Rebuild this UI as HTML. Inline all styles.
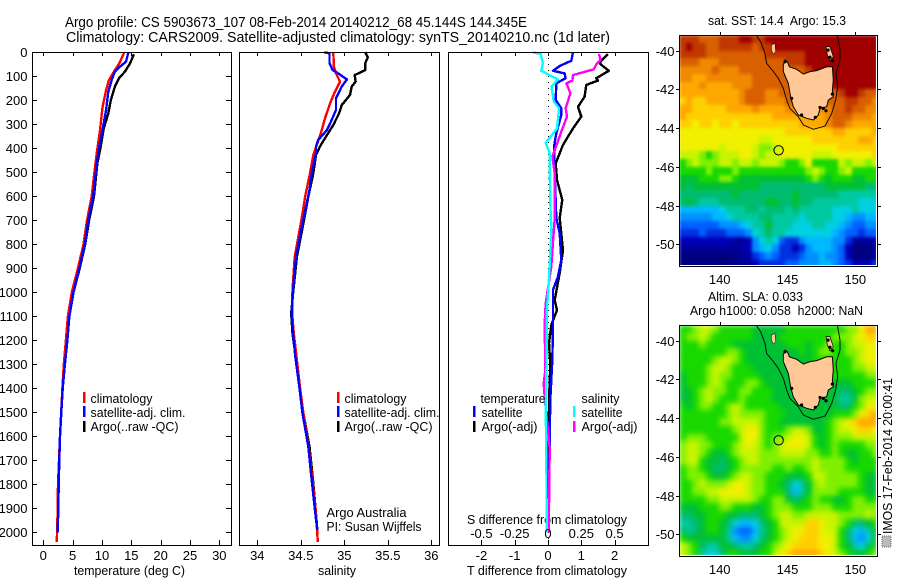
<!DOCTYPE html>
<html lang="en">
<head>
<meta charset="utf-8">
<title>Argo profile CS 5903673_107</title>
<style>
html,body{margin:0;padding:0;background:#fff;width:900px;height:580px;overflow:hidden}
svg{display:block}
text{font-family:"Liberation Sans",sans-serif;font-size:13px;fill:#000;white-space:pre}
.title{font-size:14.5px}
</style>
</head>
<body>
<svg id="fig" xmlns="http://www.w3.org/2000/svg" width="900" height="580" viewBox="0 0 900 580">
  <text class="title" x="65" y="27" textLength="462" lengthAdjust="spacingAndGlyphs">Argo profile: CS 5903673_107 08-Feb-2014 20140212_68 45.144S 144.345E</text>
  <text class="title" x="66" y="42" textLength="544" lengthAdjust="spacingAndGlyphs">Climatology: CARS2009. Satellite-adjusted climatology: synTS_20140210.nc (1d later)</text>

  <text x="74" y="575" textLength="111" lengthAdjust="spacingAndGlyphs">temperature (deg C)</text>
  <text x="318" y="575" textLength="38" lengthAdjust="spacingAndGlyphs">salinity</text>
  <text x="467" y="575" textLength="160" lengthAdjust="spacingAndGlyphs">T difference from climatology</text>
  <text x="467" y="524" textLength="160" lengthAdjust="spacingAndGlyphs">S difference from climatology</text>

  <text x="708" y="25" textLength="138" lengthAdjust="spacingAndGlyphs">sat. SST: 14.4  Argo: 15.3</text>
  <text x="708" y="301" textLength="95" lengthAdjust="spacingAndGlyphs">Altim. SLA: 0.033</text>
  <text x="690" y="315" textLength="173" lengthAdjust="spacingAndGlyphs">Argo h1000: 0.058  h2000: NaN</text>

  <g id="layer-panels"></g>
  <g id="layer-maps"></g>

  <g>
    <rect x="83" y="392" width="2.5" height="11" fill="#f00"/>
    <text x="90.5" y="403" textLength="62" lengthAdjust="spacingAndGlyphs">climatology</text>
    <rect x="83" y="406" width="2.5" height="11" fill="#00f"/>
    <text x="90.5" y="417" textLength="95" lengthAdjust="spacingAndGlyphs">satellite-adj. clim.</text>
    <rect x="83" y="421" width="2.5" height="11" fill="#000"/>
    <text x="90.5" y="431" textLength="88" lengthAdjust="spacingAndGlyphs">Argo(..raw -QC)</text>
  </g>
  <g>
    <rect x="337" y="392" width="2.5" height="11" fill="#f00"/>
    <text x="344.5" y="403" textLength="62" lengthAdjust="spacingAndGlyphs">climatology</text>
    <rect x="337" y="406" width="2.5" height="11" fill="#00f"/>
    <text x="344.5" y="417" textLength="95" lengthAdjust="spacingAndGlyphs">satellite-adj. clim.</text>
    <rect x="337" y="421" width="2.5" height="11" fill="#000"/>
    <text x="344.5" y="431" textLength="88" lengthAdjust="spacingAndGlyphs">Argo(..raw -QC)</text>
    <text x="326.5" y="517" textLength="80" lengthAdjust="spacingAndGlyphs">Argo Australia</text>
    <text x="326.5" y="531" textLength="95" lengthAdjust="spacingAndGlyphs">PI: Susan Wijffels</text>
  </g>
  <g>
    <text x="480.5" y="403" textLength="65" lengthAdjust="spacingAndGlyphs">temperature</text>
    <rect x="473" y="406" width="2.5" height="11" fill="#00f"/>
    <text x="481.5" y="417" textLength="41" lengthAdjust="spacingAndGlyphs">satellite</text>
    <rect x="473" y="421" width="2.5" height="11" fill="#000"/>
    <text x="481.5" y="431" textLength="56" lengthAdjust="spacingAndGlyphs">Argo(-adj)</text>
    <text x="581.5" y="403" textLength="38" lengthAdjust="spacingAndGlyphs">salinity</text>
    <rect x="573" y="406" width="2.5" height="11" fill="#0ff"/>
    <text x="581.5" y="417" textLength="41" lengthAdjust="spacingAndGlyphs">satellite</text>
    <rect x="573" y="421" width="2.5" height="11" fill="#f0f"/>
    <text x="581.5" y="431" textLength="56" lengthAdjust="spacingAndGlyphs">Argo(-adj)</text>
  </g>

  <rect x="882" y="536" width="9" height="11" fill="#bbb" stroke="#666" stroke-width="1" stroke-dasharray="1 1"/>
  <text transform="translate(892,534) rotate(-90)" x="0" y="0" textLength="156" lengthAdjust="spacingAndGlyphs">IMOS 17-Feb-2014 20:00:41</text>
</svg>

<script>
/* ---------- tick values ---------- */
var depthTicks = [0,100,200,300,400,500,600,700,800,900,1000,1100,1200,1300,1400,1500,1600,1700,1800,1900,2000];
var tempTicks = [0,5,10,15,20,25,30];
var salTicks = [34,34.5,35,35.5,36];
var tDiffTicks = [-2,-1,0,1,2];
var sDiffTicks = [-0.5,-0.25,0,0.25,0.5];
var lonTicks = [140,145,150];
var latTicks = [-40,-42,-44,-46,-48,-50];

/* ---------- temperature profile ---------- */
var tempClimDepth = [0,46,74,115,157,227,324,421,504,600,700,800,900,1000,1100,1200,1300,1400,1500,1600,1700,1800,1900,2040];
var tempClimValue = [13.8,12.95,12.2,11.2,10.7,10.1,9.66,9.1,8.7,8.25,7.45,6.85,5.9,4.85,4.2,3.85,3.5,3.25,3.05,2.85,2.68,2.5,2.45,2.3];
var tempSatDepth = [0,39,60,80,115,164,240,310,393,463,600,699,796,900,1004,1101,1199,1296,1400,1500,1600,1700,1800,1900,2000];
var tempSatValue = [14.5,14.1,13.07,12.2,11.65,11.08,10.7,10.2,9.55,9.1,8.5,7.67,7.1,6.14,5.1,4.43,4.1,3.7,3.3,3.07,2.85,2.73,2.62,2.56,2.45];
var tempArgoDepth = [8,46,81,108,143,199,255,317,393,463,600,700,800,900,1000,1100,1200,1300,1400,1500,1600,1700,1800,1900,1990];
var tempArgoValue = [15.45,14.8,13.9,12.9,12.2,11.5,11.08,10.3,9.78,9.2,8.64,7.8,7.15,6.2,5.15,4.45,4,3.55,3.25,3.05,2.85,2.7,2.55,2.5,2.4];

/* ---------- salinity profile ---------- */
var salClimDepth = [0,60,88,122,164,213,275,338,379,428,504,602,692,852,991,1087,1171,1268,1393,1504,1643,1782,1921,2040];
var salClimValue = [34.874,34.88,34.905,34.95,34.893,34.836,34.778,34.73,34.69,34.644,34.606,34.55,34.51,34.43,34.405,34.4,34.42,34.45,34.49,34.53,34.59,34.635,34.675,34.695];
var salSatDepth = [0,4,46,74,88,113,143,192,240,282,324,365,393,421,504,574,712,852,991,1087,1171,1268,1393,1504,1643,1782,1921,1990];
var salSatValue = [34.77,34.83,34.83,34.867,34.93,35.03,34.97,34.905,34.905,34.855,34.8,34.7,34.675,34.675,34.625,34.6,34.52,34.445,34.41,34.395,34.41,34.437,34.483,34.52,34.586,34.625,34.667,34.69];
var salArgoDepth = [0,21,46,74,95,122,143,178,220,254,303,345,393,428,504,602,712,852,991,1087,1171,1268,1393,1504,1643,1782,1921,1990];
var salArgoValue = [35.24,35.27,35.24,35.24,35.12,35.13,35.085,35.066,34.97,34.94,34.874,34.8,34.72,34.675,34.644,34.586,34.53,34.455,34.415,34.39,34.405,34.44,34.49,34.53,34.6,34.64,34.675,34.69];

/* ---------- difference profiles ---------- */
var diffTSatDepth = [0,35,57,77,88,108,129,199,233,261,338,393,504,574,691,754,865,935,990,1143,1282,1448,1600,2000];
var diffTSatValue = [0.75,0.7,0.35,0.15,0.5,0.53,0.25,0.23,0.4,0.4,0.25,0.18,0.2,0.22,0.25,0.35,0.4,0.3,0.15,0.15,0.13,0.07,0.05,0.01];
var diffTArgoDepth = [7,39,49,77,108,118,136,185,227,268,317,386,462,532,615,691,824,920,1032,1074,1136,1212,1300,1462,1700,2000];
var diffTArgoValue = [1.8,1.57,1.57,1.83,1.45,1.5,1.15,1.1,0.9,1,0.75,0.45,0.23,0.27,0.43,0.35,0.45,0.35,0.2,0.27,0.1,0.03,0.07,0.03,0.02,0];
var diffSSatDepth = [0,7,46,77,113,143,205,233,317,377,421,484,691,727,935,1074,1352,1477,1700,2000];
var diffSSatValue = [-0.113,-0.055,-0.038,-0.05,0.075,0.026,0.043,0.083,0.068,-0.017,0.013,0.013,0.02,0.026,0.008,-0.008,-0.012,-0.017,-0.012,-0.01];
var diffSArgoDepth = [7,32,49,71,95,118,129,171,233,268,331,435,504,691,893,1046,1129,1324,1380,1448,1650,2000];
var diffSArgoValue = [0.383,0.394,0.364,0.344,0.188,0.183,0.138,0.168,0.133,0.143,0.1,0.033,0.05,0.05,0.025,-0.017,-0.025,-0.02,-0.032,-0.023,0.013,0.005];

/* ---------- map fields: colour-scale level (0 navy .. 20 dark red), north to south ---------- */
var sstLevels = [
[19,19,19,18,18,18,19,19,19,20,20,19,19,20,20,20,20,20,20,20,20,20,20,20,20,20,20,20,20,20],
[19,20,19,19,18,18,19,19,19,19,19,18,19,19,20,20,20,20,20,20,20,20,20,20,20,20,20,20,20,20],
[19,19,19,19,18,18,18,18,18,18,18,18,18,19,19,19,19,19,19,20,20,20,20,20,20,20,20,20,20,20],
[18,18,18,17,17,17,18,18,18,18,18,18,18,18,18,18,19,19,19,20,20,20,20,20,20,20,20,20,20,20],
[17,17,17,17,17,18,17,17,17,18,18,18,18,18,18,18,18,18,18,19,20,20,20,20,20,20,20,20,20,20],
[17,17,16,16,17,17,17,17,17,17,17,18,18,18,18,18,18,18,18,18,18,18,20,20,20,20,20,20,20,20],
[16,16,16,17,16,16,16,16,17,17,17,18,18,18,18,18,18,18,18,18,18,18,18,20,20,20,20,20,20,20],
[16,16,16,16,16,16,16,16,16,17,18,18,18,17,17,18,18,18,18,18,18,18,18,18,19,20,20,19,18,18],
[15,16,15,15,16,16,16,16,16,17,18,18,18,17,17,17,18,18,18,18,18,18,18,18,18,19,19,18,18,17],
[16,16,15,15,15,15,15,16,16,16,16,17,16,16,16,16,17,17,17,17,17,17,17,18,18,19,18,18,17,17],
[16,15,15,15,15,15,15,15,15,15,15,15,15,15,16,16,16,16,16,16,16,16,17,18,18,18,17,17,17,16],
[15,15,14,15,15,14,15,15,14,15,15,15,15,15,15,15,15,15,16,16,16,16,17,18,18,17,16,16,16,16],
[14,14,14,14,14,14,14,14,14,14,14,14,14,14,14,14,15,15,15,15,15,15,15,16,16,15,15,15,15,16],
[14,14,14,14,14,14,14,14,14,14,14,14,13,13,14,14,14,14,14,14,15,15,15,15,15,15,15,16,16,15],
[14,14,14,14,14,14,13,14,14,14,14,13,12,12,13,14,14,14,14,14,14,14,14,14,15,15,15,15,15,15],
[13,13,13,12,11,12,13,13,13,14,14,13,12,13,13,14,14,14,14,14,13,13,13,14,14,14,14,14,14,15],
[11,12,13,12,12,12,13,13,12,13,13,12,13,13,13,12,11,11,12,14,11,11,11,11,13,12,13,13,12,13],
[11,11,11,11,12,11,11,11,12,11,11,11,11,11,11,11,11,11,11,12,13,12,11,11,12,13,11,11,11,11],
[10,10,10,11,11,11,12,12,11,10,10,10,10,10,10,10,10,10,10,11,12,11,10,11,11,11,10,10,11,11],
[10,9,10,10,10,10,10,10,10,10,10,10,9,9,9,9,9,9,9,9,9,9,10,10,10,10,10,10,9,9],
[9,9,9,9,9,9,9,9,10,9,9,9,9,9,9,9,9,10,9,9,9,9,9,9,8,8,8,8,8,8],
[9,10,9,8,8,8,9,9,9,9,9,9,9,10,10,9,9,10,9,9,8,8,8,8,8,8,8,7,7,7],
[6,6,6,6,6,6,7,8,8,8,9,9,8,9,9,9,8,9,8,8,8,8,8,7,7,7,8,7,7,7],
[5,5,5,5,5,6,6,7,8,8,8,8,9,9,8,8,8,8,7,8,8,8,8,7,7,6,5,5,6,6],
[4,4,4,4,4,4,5,5,5,6,7,8,8,10,8,8,8,7,7,7,8,8,7,7,6,5,4,4,5,5],
[3,3,3,4,3,3,3,4,4,4,5,7,8,9,8,8,7,7,7,7,7,7,7,6,5,4,4,3,4,4],
[2,2,2,2,2,2,2,2,1,1,2,5,7,8,7,4,3,3,5,6,6,6,6,5,5,3,1,1,1,2],
[1,1,1,1,1,1,1,1,1,1,2,5,6,7,5,3,3,2,3,5,6,6,6,5,4,2,0,0,0,1],
[0,0,0,0,0,0,0,0,0,1,1,3,4,5,4,3,3,3,4,5,5,6,5,5,4,2,0,0,0,1],
[0,0,0,0,0,0,0,0,1,1,1,2,3,3,3,3,4,4,5,5,5,6,6,5,4,3,2,2,2,3]
];
var slaLevels = [
[11,11,12,13,13,12,11,11,11,11,11,10,10,10,10,10,11,11,11,11,11,11,11,11,11,12,12,14,16,16],
[11,12,12,13,12,11,11,11,11,11,11,10,10,10,10,11,11,11,11,11,11,11,11,12,12,12,13,14,15,15],
[11,11,11,12,11,11,11,11,10,10,10,10,10,10,10,10,11,11,11,10,11,11,12,11,11,12,13,13,14,14],
[11,11,11,11,11,11,11,12,12,11,10,10,10,10,10,10,10,10,11,10,11,12,12,11,11,12,12,13,14,14],
[11,11,11,11,11,12,13,13,12,11,10,10,10,10,10,10,10,10,10,10,11,11,11,11,11,11,12,13,14,14],
[11,11,11,11,12,13,13,12,11,11,11,10,10,10,10,10,10,10,10,10,10,11,11,11,11,11,12,12,13,13],
[10,11,11,11,12,13,12,12,11,11,11,11,10,10,10,10,10,10,10,10,10,10,11,11,11,11,11,11,12,12],
[10,11,11,11,12,13,12,11,11,11,12,12,11,10,10,10,10,10,10,10,10,10,10,10,10,10,11,11,11,11],
[10,10,11,12,13,12,12,11,11,12,12,11,11,11,10,10,10,10,10,10,10,10,10,10,9,9,10,11,12,12],
[10,10,11,12,13,12,11,11,11,12,11,11,11,11,10,10,10,10,10,10,10,10,10,10,8,8,10,12,13,13],
[11,10,11,12,12,11,11,12,13,12,11,11,11,11,11,10,10,10,10,10,10,10,10,10,9,9,11,12,14,14],
[11,11,11,11,11,11,11,12,13,12,12,12,12,11,11,11,10,10,10,10,10,10,10,11,11,11,12,14,15,16],
[11,11,11,11,11,11,12,12,13,13,13,13,12,11,11,10,10,10,10,10,10,10,11,12,13,14,15,16,16,16],
[11,11,11,11,11,11,11,11,12,13,14,14,12,11,11,11,12,13,13,12,10,10,11,12,13,13,14,15,15,14],
[11,12,12,12,11,11,11,11,11,13,14,14,12,11,12,12,13,14,14,13,11,10,11,12,12,12,13,13,13,13],
[12,13,13,12,12,11,11,11,12,13,14,13,12,11,12,13,14,14,14,13,11,10,11,12,11,11,11,11,12,12],
[12,13,13,12,11,10,10,11,12,13,13,13,12,12,12,13,13,13,13,12,12,11,11,12,11,10,10,11,11,12],
[12,13,13,11,10,10,9,10,11,12,13,13,12,12,12,12,12,12,12,12,13,12,12,12,12,11,10,11,11,11],
[11,12,12,11,10,9,9,10,11,12,12,12,12,12,11,11,12,11,11,12,13,12,12,12,12,11,11,11,11,11],
[11,12,12,12,11,10,10,11,12,13,13,12,12,11,11,11,10,10,10,11,13,13,12,12,12,12,12,11,10,10],
[11,11,12,13,12,12,12,13,14,14,13,12,12,11,11,10,9,7,8,10,12,13,12,12,12,12,12,11,10,10],
[11,11,12,12,13,13,14,14,14,14,13,12,12,11,11,11,9,6,8,10,12,12,12,12,11,11,11,11,10,10],
[11,11,11,11,12,12,13,13,13,13,13,12,11,11,12,12,10,9,10,11,12,11,11,10,10,11,12,12,11,11],
[10,10,10,11,11,11,12,12,11,11,11,10,10,11,12,12,12,11,11,11,12,12,12,11,11,11,12,12,12,12],
[9,9,10,10,11,11,11,10,10,9,9,9,10,11,12,13,13,12,12,13,13,13,13,13,12,12,12,12,13,12],
[8,8,9,10,11,11,10,9,7,6,6,7,9,10,11,13,13,13,13,15,15,14,13,13,12,11,9,9,10,11],
[9,8,9,10,11,11,10,8,5,4,4,6,8,10,11,12,13,14,14,15,15,14,13,13,11,9,7,6,8,10],
[11,10,10,10,10,10,10,8,6,5,5,7,9,10,11,12,13,14,15,15,15,14,14,13,11,9,6,5,7,10],
[13,12,11,9,8,8,10,10,9,8,8,9,10,11,12,13,14,15,15,15,15,14,14,13,11,10,8,7,9,11],
[13,12,11,8,7,7,9,11,11,10,10,10,11,11,13,14,15,16,16,16,16,15,14,13,12,11,10,10,11,12]
];
var levelColors = ['#000080','#00009c','#0000b8','#0030e0','#0060ff','#0090ff','#00b8ff','#00d0e0','#00c8a0','#00bc70','#00c034','#18d800','#80f000','#c8f400','#f0f000','#ffd000','#ffa800','#f08800','#d86000','#c03800','#a00000'];

/* ---------- geography (lon, lat) ---------- */
var argoLon = 144.345;
var argoLat = -45.144;
var tasmaniaLon = [144.69,144.82,144.99,145.14,145.68,146.17,146.66,147.15,147.89,148.31,148.38,148.31,148.38,148.01,147.89,147.40,147.27,146.91,146.41,145.80,145.43,145.23,145.06,144.69];
var tasmaniaLat = [-40.74,-40.48,-40.57,-40.83,-40.96,-41.21,-41.08,-41.03,-40.83,-40.83,-41.52,-42.03,-42.38,-42.55,-42.89,-42.98,-43.32,-43.58,-43.49,-43.32,-42.89,-42.38,-41.69,-41.08];
var kingLon = [143.81,144.08,144.13,143.95,143.81];
var kingLat = [-39.71,-39.62,-40.05,-40.17,-39.97];
var flindersLon = [147.84,148.13,148.38,148.13,147.94];
var flindersLat = [-39.79,-39.79,-40.31,-40.52,-40.22];
var shelfLon = [142.68,143.02,143.34,143.46,143.96,144.32,144.69,144.94,145.18,145.80,146.17,146.91,147.77,148.26,148.55,148.70,148.58,148.87,148.87,148.68];
var shelfLat = [-39.19,-39.54,-40.14,-40.65,-41.08,-41.43,-41.94,-42.55,-42.98,-43.41,-43.84,-44.06,-43.89,-43.24,-42.55,-41.86,-41.17,-40.48,-39.97,-39.19];
var isletLon = [147.64,147.40,147.84,147.05,146.04,148.13,147.99,148.33,144.82,145.31,148.31];
var isletLat = [-42.98,-42.93,-43.10,-43.44,-43.32,-40.34,-39.97,-40.52,-40.57,-42.46,-42.24];

/* ---------- drawing ---------- */
var NS = 'http://www.w3.org/2000/svg';
var panelLayer = document.getElementById('layer-panels');
var mapLayer = document.getElementById('layer-maps');

function el(parent, tag, attrs, content) {
  var n = document.createElementNS(NS, tag);
  for (var k in attrs) { n.setAttribute(k, attrs[k]); }
  if (content !== undefined) { n.textContent = content; }
  parent.appendChild(n);
  return n;
}

var PANEL_TOP = 52, PANEL_BOTTOM = 545;
function depthY(d) { return 52.3 + 0.24 * d; }
function tempX(t) { return 43.3 + 5.867 * t; }
function salX(s) { return 257.3 + 87 * (s - 34); }
function tDiffX(t) { return 548 + 33.3 * t; }
function sDiffX(s) { return 548 + 133.2 * s; }

function drawVTicks(group, ticks, xFn) {
  ticks.forEach(function (t) {
    var x = Math.round(xFn(t)) + 0.5;
    var a = el(group, 'line', {x1: x, x2: x, y1: PANEL_TOP, y2: PANEL_TOP + 4, stroke: '#000', 'shape-rendering': 'crispEdges'});
    
    
    var b = el(group, 'line', {x1: x, x2: x, y1: PANEL_BOTTOM, y2: PANEL_BOTTOM - 5, stroke: '#000', 'shape-rendering': 'crispEdges'});
    
    
  });
}

function drawFrame(group, left, right, top, bottom, name) {
  var f = el(group, 'rect', {x: left + 0.5, y: top + 0.5, width: right - left, height: bottom - top, fill: 'none', stroke: '#000', 'stroke-width': 1, 'shape-rendering': 'crispEdges'});
  
  
}

function drawSeries(group, depths, values, xFn, color, name) {
  var pts = depths.map(function (d, i) { return xFn(values[i]).toFixed(1) + ',' + depthY(d).toFixed(1); }).join(' ');
  var p = el(group, 'polyline', {points: pts, fill: 'none', stroke: color, 'stroke-width': 2.4, 'shape-rendering': 'crispEdges', 'stroke-linejoin': 'round'});
  
  
}

function drawTickLabels(group, ticks, xFn, y, name) {
  ticks.forEach(function (t) {
    var lab = el(group, 'text', {x: xFn(t), y: y, 'text-anchor': 'middle'}, String(t));
    
    
  });
}

/* temperature panel */
var tempPanel = el(panelLayer, 'g', {});


drawSeries(tempPanel, tempArgoDepth, tempArgoValue, tempX, '#000', 'temperature-argo-line');
drawSeries(tempPanel, tempClimDepth, tempClimValue, tempX, '#f00', 'temperature-climatology-line');
drawSeries(tempPanel, tempSatDepth, tempSatValue, tempX, '#00f', 'temperature-satellite-line');
drawFrame(tempPanel, 32, 231, PANEL_TOP, PANEL_BOTTOM, 'temperature-panel-frame');
drawVTicks(tempPanel, tempTicks, tempX);
drawTickLabels(tempPanel, tempTicks, tempX, 560, 'temperature-tick-label');
depthTicks.forEach(function (d) {
  var y = Math.round(depthY(d)) + 0.5;
  if (d > 0) {
    var l = el(tempPanel, 'line', {x1: 32, x2: 37, y1: y, y2: y, stroke: '#000', 'shape-rendering': 'crispEdges'});
    
    
    var r = el(tempPanel, 'line', {x1: 231, x2: 226, y1: y, y2: y, stroke: '#000', 'shape-rendering': 'crispEdges'});
    
    
  }
  var lab = el(tempPanel, 'text', {x: 27.5, y: y + 4.5, 'text-anchor': 'end'}, String(d));
  
  
});

/* salinity panel */
var salPanel = el(panelLayer, 'g', {});


drawSeries(salPanel, salArgoDepth, salArgoValue, salX, '#000', 'salinity-argo-line');
drawSeries(salPanel, salClimDepth, salClimValue, salX, '#f00', 'salinity-climatology-line');
drawSeries(salPanel, salSatDepth, salSatValue, salX, '#00f', 'salinity-satellite-line');
drawFrame(salPanel, 239, 439, PANEL_TOP, PANEL_BOTTOM, 'salinity-panel-frame');
drawVTicks(salPanel, salTicks, salX);
drawTickLabels(salPanel, salTicks, salX, 560, 'salinity-tick-label');

/* difference panel */
var diffPanel = el(panelLayer, 'g', {});


var zero = el(diffPanel, 'line', {x1: tDiffX(0) + 0.5, x2: tDiffX(0) + 0.5, y1: PANEL_TOP, y2: PANEL_BOTTOM, stroke: '#000', 'stroke-dasharray': '1 5', 'shape-rendering': 'crispEdges'});


drawSeries(diffPanel, diffTArgoDepth, diffTArgoValue, tDiffX, '#000', 'difference-t-argo-line');
drawSeries(diffPanel, diffTSatDepth, diffTSatValue, tDiffX, '#00f', 'difference-t-satellite-line');
drawSeries(diffPanel, diffSArgoDepth, diffSArgoValue, sDiffX, '#f0f', 'difference-s-argo-line');
drawSeries(diffPanel, diffSSatDepth, diffSSatValue, sDiffX, '#0ff', 'difference-s-satellite-line');
drawFrame(diffPanel, 448, 648, PANEL_TOP, PANEL_BOTTOM, 'difference-panel-frame');
drawVTicks(diffPanel, tDiffTicks, tDiffX);
drawTickLabels(diffPanel, tDiffTicks, tDiffX, 560, 't-difference-tick-label');
drawTickLabels(diffPanel, sDiffTicks, sDiffX, 538, 's-difference-tick-label');

/* maps */
function lonX(lon) { return 719.7 + 13.56 * (lon - 140); }
function latY(lat, y40) { return y40 + 19.36 * (-40 - lat); }
var LON0 = 137.0, DLON = 0.49, LAT0 = -39.2, DLAT = 0.4;

function pointList(lons, lats, y40) {
  return lons.map(function (lo, i) { return lonX(lo).toFixed(1) + ',' + latY(lats[i], y40).toFixed(1); }).join(' ');
}

function drawMap(levels, top, bottom, y40, tickLabelY, clipId, softness, name) {
  var g = el(mapLayer, 'g', {});
  
  
  var defs = el(g, 'defs', {});
  var clip = el(defs, 'clipPath', {id: clipId});
  el(clip, 'rect', {x: 680, y: top + 1, width: 196, height: bottom - top - 2});
  var soft = el(defs, 'filter', {id: clipId + '-soft', filterUnits: 'userSpaceOnUse', x: 680, y: top + 1, width: 196, height: bottom - top - 2, 'color-interpolation-filters': 'sRGB'});
  el(soft, 'feGaussianBlur', {stdDeviation: softness, edgeMode: 'duplicate'});
  var clipped = el(g, 'g', {'clip-path': 'url(#' + clipId + ')'});
  var cells = el(clipped, 'g', {filter: 'url(#' + clipId + '-soft)', 'shape-rendering': 'crispEdges'});
  
  
  levels.forEach(function (row, i) {
    var y0 = Math.round(latY(LAT0 - DLAT * i, y40));
    var y1 = Math.round(latY(LAT0 - DLAT * (i + 1), y40));
    row.forEach(function (v, j) {
      var x0 = Math.round(lonX(LON0 + DLON * j));
      var x1 = Math.round(lonX(LON0 + DLON * (j + 1)));
      var c = el(cells, 'rect', {x: x0, y: y0, width: x1 - x0, height: y1 - y0, fill: levelColors[v]});
      
      
    });
  });
  var overlay = el(g, 'g', {'clip-path': 'url(#' + clipId + ')'});
  
  
  var tas = el(overlay, 'polygon', {points: pointList(tasmaniaLon, tasmaniaLat, y40), fill: '#ffc896', stroke: '#000', 'stroke-width': 1});
  
  
  var king = el(overlay, 'polygon', {points: pointList(kingLon, kingLat, y40), fill: '#ffc896', stroke: '#000', 'stroke-width': 0.5});
  
  
  var flinders = el(overlay, 'polygon', {points: pointList(flindersLon, flindersLat, y40), fill: '#ffc896', stroke: '#000', 'stroke-width': 0.7});
  
  
  isletLon.forEach(function (lo, i) {
    var dot = el(overlay, 'circle', {cx: lonX(lo), cy: latY(isletLat[i], y40), r: 1.6, fill: '#000'});
    
    
  });
  var shelf = el(overlay, 'polyline', {points: pointList(shelfLon, shelfLat, y40), fill: 'none', stroke: '#000', 'stroke-width': 0.9});
  
  
  var marker = el(overlay, 'circle', {cx: lonX(argoLon), cy: latY(argoLat, y40), r: 4.7, fill: 'none', stroke: '#000', 'stroke-width': 1});
  
  
  drawFrame(g, 679, 877, top, bottom, name + '-frame');
  lonTicks.forEach(function (lo) {
    var x = Math.round(lonX(lo)) + 0.5;
    var t = el(g, 'line', {x1: x, x2: x, y1: top, y2: top - 3, stroke: '#000', 'shape-rendering': 'crispEdges'});
    
    
    var lab = el(g, 'text', {x: lonX(lo), y: tickLabelY, 'text-anchor': 'middle'}, String(lo));
    
    
  });
  latTicks.forEach(function (la) {
    var y = Math.round(latY(la, y40)) + 0.5;
    var a = el(g, 'line', {x1: 679, x2: 676, y1: y, y2: y, stroke: '#000', 'shape-rendering': 'crispEdges'});
    
    
    var b = el(g, 'line', {x1: 878, x2: 881, y1: y, y2: y, stroke: '#000', 'shape-rendering': 'crispEdges'});
    
    
    var lab = el(g, 'text', {x: 674.5, y: y + 4.5, 'text-anchor': 'end'}, String(la));
    
    
  });
}

drawMap(sstLevels, 35, 266, 50.7, 284, 'clip-sst', 1.6, 'sst-map');
drawMap(slaLevels, 325, 556, 340.7, 574, 'clip-sla', 2.6, 'sla-map');
</script>
</body>
</html>
